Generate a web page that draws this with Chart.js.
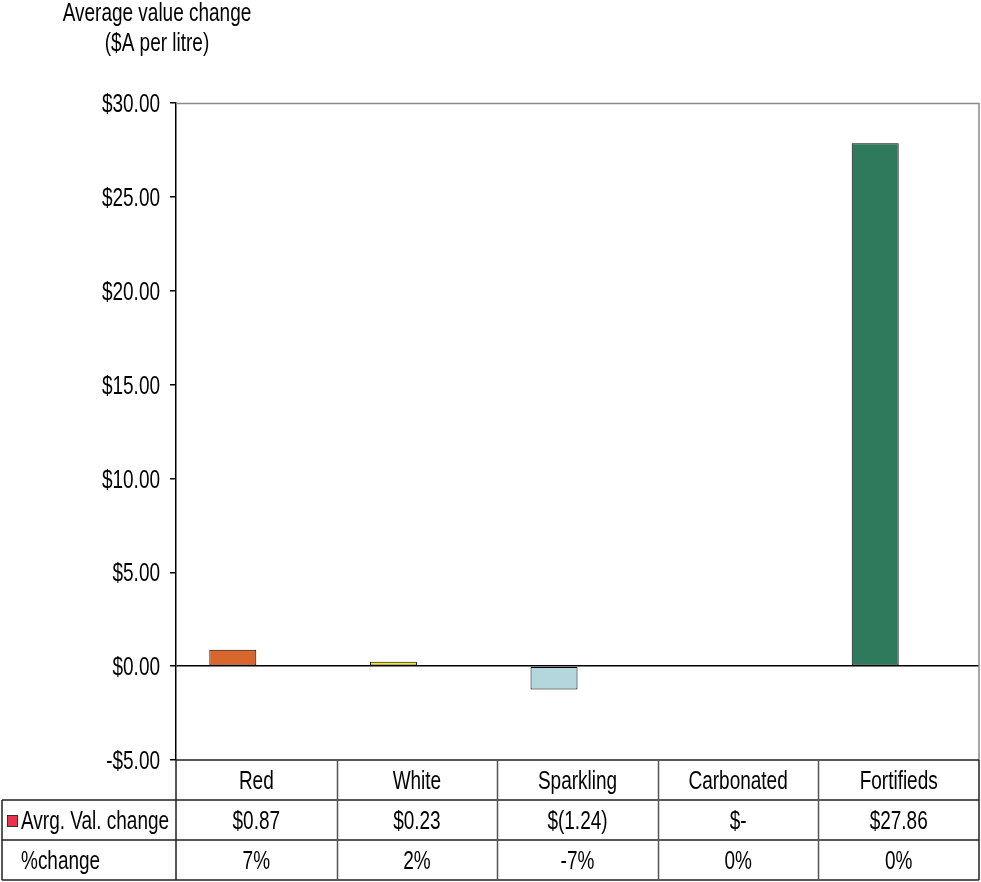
<!DOCTYPE html>
<html>
<head>
<meta charset="utf-8">
<script src="https://cdn.jsdelivr.net/npm/chart.js@4/dist/chart.umd.min.js"></script>
<style>
  html, body { margin: 0; padding: 0; background: #fff; }
  #wrap { position: relative; width: 981px; height: 882px; }
</style>
</head>
<body>
<div id="wrap"><canvas id="c" width="981" height="882"></canvas></div>
<script>
const categories = ["Red", "White", "Sparkling", "Carbonated", "Fortifieds"];
const avgValChange = [0.87, 0.23, -1.24, 0, 27.86];
const pctChange = [null, null, null, null, null]; // second table row, not drawn as bars
const avgValLabels = ["$0.87", "$0.23", "$(1.24)", "$-", "$27.86"];
const pctChangeLabels = ["7%", "2%", "-7%", "0%", "0%"];
const barColors = ["#d9662c", "#f5e528", "#b4d7de", "#ffffff", "#2f7a5d"];
const seriesName = "Avrg. Val. change";
const rowName2 = "%change";
const axisTitle = ["Average value change", "($A per litre)"];
const yMin = -5, yMax = 30, yStep = 5;

const FONT = '"Liberation Sans", Arial, sans-serif';
const FS = 26;
const SX = 0.73; // horizontal condensing to mimic a narrow face

function drawText(ctx, text, x, y, align) {
  ctx.save();
  ctx.translate(x, y);
  ctx.scale(SX, 1);
  ctx.textAlign = align;
  ctx.fillText(text, 0, 0);
  ctx.restore();
}

function fmtMoney(v) {
  return (v < 0 ? '-$' : '$') + Math.abs(v).toFixed(2);
}

const tablePlugin = {
  id: 'tablePlugin',
  afterDraw(chart) {
    const ctx = chart.ctx;
    const a = chart.chartArea;
    const x = chart.scales.x;
    const y = chart.scales.y;
    const n = categories.length;
    const half = (x.getPixelForValue(1) - x.getPixelForValue(0)) / 2;
    const rowH = 40;
    const r0 = a.bottom, r1 = r0 + rowH, r2 = r1 + rowH, r3 = r2 + rowH;
    const leftX = 2;
    ctx.save();
    // plot border top/right (grey)
    ctx.strokeStyle = '#8a8a8a';
    ctx.lineWidth = 1.5;
    ctx.beginPath();
    ctx.moveTo(a.left, a.top + 0.5);
    ctx.lineTo(a.right, a.top + 0.5);
    ctx.lineTo(a.right, a.bottom);
    ctx.stroke();
    // table lines
    ctx.strokeStyle = '#222';
    ctx.lineWidth = 1.5;
    ctx.beginPath();
    ctx.moveTo(a.left, r0); ctx.lineTo(a.right, r0);
    ctx.moveTo(leftX, r1); ctx.lineTo(a.right, r1);
    ctx.moveTo(leftX, r2); ctx.lineTo(a.right, r2);
    ctx.moveTo(leftX, r3); ctx.lineTo(a.right, r3);
    ctx.moveTo(leftX, r1); ctx.lineTo(leftX, r3);
    ctx.moveTo(a.left, r0); ctx.lineTo(a.left, r3);
    ctx.moveTo(a.right, r0); ctx.lineTo(a.right, r3);
    ctx.stroke();
    ctx.strokeStyle = '#555';
    ctx.beginPath();
    for (let i = 1; i < n; i++) {
      const bx = Math.round(x.getPixelForValue(i) - half) + 0.5;
      ctx.moveTo(bx, r0); ctx.lineTo(bx, r3);
    }
    ctx.stroke();
    // texts
    ctx.fillStyle = '#000';
    ctx.font = FS + 'px ' + FONT;
    ctx.textBaseline = 'middle';
    for (let i = 0; i < n; i++) {
      const cx = x.getPixelForValue(i);
      drawText(ctx, categories[i], cx, r0 + rowH / 2 + 2, 'center');
      drawText(ctx, avgValLabels[i], cx, r1 + rowH / 2 + 2, 'center');
      drawText(ctx, pctChangeLabels[i], cx, r2 + rowH / 2 + 2, 'center');
    }
    drawText(ctx, seriesName, 21, r1 + rowH / 2 + 2, 'left');
    drawText(ctx, rowName2, 21, r2 + rowH / 2 + 2, 'left');
    // y tick labels
    y.ticks.forEach((t) => {
      drawText(ctx, fmtMoney(t.value), 160, y.getPixelForValue(t.value) + 2, 'right');
    });
    // legend key
    ctx.fillStyle = '#e8334a';
    ctx.fillRect(7, r1 + 15, 10, 11);
    ctx.strokeStyle = '#333';
    ctx.lineWidth = 1;
    ctx.strokeRect(7.5, r1 + 15.5, 10, 11);
    // axis title
    ctx.fillStyle = '#000';
    drawText(ctx, axisTitle[0], 157, 14, 'center');
    drawText(ctx, axisTitle[1], 157, 44, 'center');
    ctx.restore();
  }
};

new Chart(document.getElementById('c'), {
  type: 'bar',
  data: {
    labels: categories,
    datasets: [{
      label: seriesName,
      data: avgValChange,
      backgroundColor: barColors,
      borderColor: '#000',
      borderWidth: 1,
      borderSkipped: false,
      categoryPercentage: 0.585,
      barPercentage: 1
    }, {
      label: rowName2,
      data: pctChange,
      backgroundColor: 'rgba(0,0,0,0)',
      borderWidth: 0,
      categoryPercentage: 0.585,
      barPercentage: 1
    }]
  },
  options: {
    responsive: false,
    animation: false,
    devicePixelRatio: 1,
    layout: { padding: { left: 0, right: 2, top: 103, bottom: 122 } },
    plugins: { legend: { display: false }, tooltip: { enabled: false }, title: { display: false } },
    scales: {
      x: { display: false },
      y: {
        min: yMin, max: yMax,
        afterFit(scale) { scale.width = 176; },
        ticks: {
          stepSize: yStep,
          color: 'rgba(0,0,0,0)',
          padding: 9,
          font: { family: FONT, size: FS },
          callback: (v) => fmtMoney(v)
        },
        grid: {
          drawOnChartArea: true,
          color: (c) => (c.tick && c.tick.value === 0 ? '#000' : 'rgba(0,0,0,0)'),
          lineWidth: 1.5,
          tickColor: '#000',
          tickLength: 6
        },
        border: { display: true, color: '#000', width: 1.5 }
      }
    }
  },
  plugins: [tablePlugin]
});
</script>
</body>
</html>
